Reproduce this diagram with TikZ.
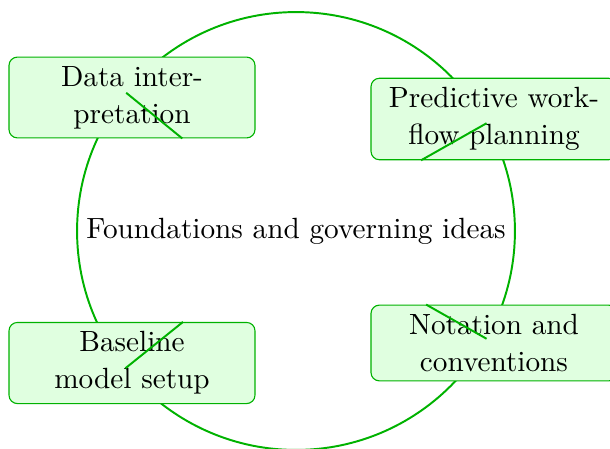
\documentclass[tikz,border=0pt]{standalone}
\usepackage{tikz}

\tikzset{
  hub/.style={circle, draw=green!70!black, line width=0.7pt, minimum size=157.2pt, inner sep=0pt},
  topic/.style={rectangle, rounded corners=3pt, draw=green!70!black, line width=0.4pt, fill=green!12, inner xsep=4pt, inner ysep=3.3pt, minimum width=88.3pt, align=center},
  link/.style={draw=green!70!black, line width=0.7pt, shorten <=78.6pt}
}

\begin{document}
\begin{tikzpicture}[x=0.359pt,y=0.359pt,yscale=-1,xscale=1,font=\fontsize{10.5}{13.2}\selectfont]
    \clip (0,0) rectangle (610,448); %picture is 610 wide, 448 high

    %Shape: Circle
    \node [hub] (hub) at (296,231) {Foundations and governing ideas};

    % Text Nodes
    \node [topic] (interp) at (132,97.5) {Data inter-\\pretation};
    \node [topic] (plan) at (494,119) {Predictive work-\\flow planning};
    \node [topic] (base) at (132,363) {Baseline\\model setup};
    \node [topic] (notation) at (494,343) {Notation and\\conventions};

    %Straight Lines (from the ring to each box)
    \draw [link] (hub.center) -- (interp);
    \draw [link] (hub.center) -- (plan);
    \draw [link] (hub.center) -- (base);
    \draw [link] (hub.center) -- (notation);

\end{tikzpicture}
\end{document}
